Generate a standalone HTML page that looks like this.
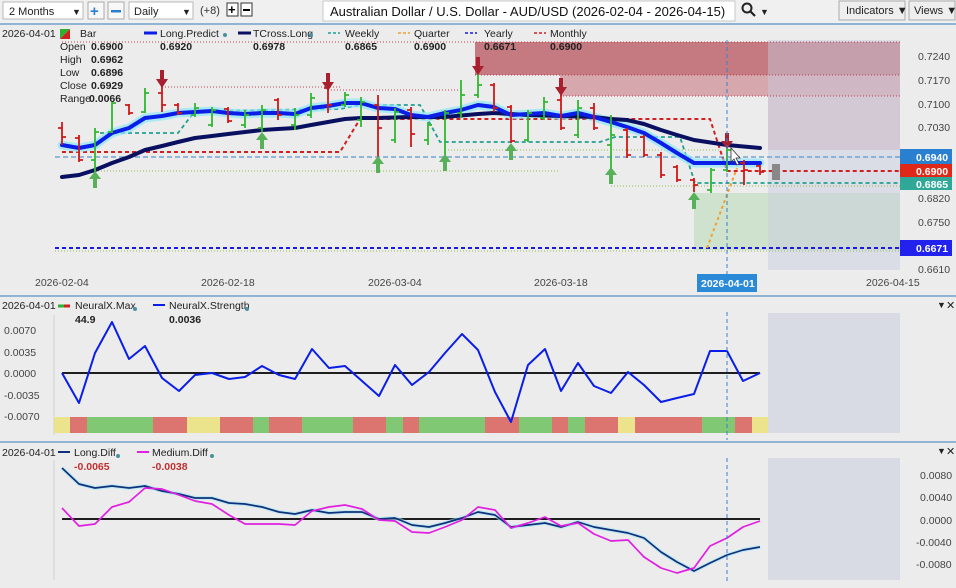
<!DOCTYPE html>
<html><head><meta charset="utf-8"><style>
body{margin:0;width:956px;height:588px;overflow:hidden;background:#ececec;font-family:"Liberation Sans",sans-serif}
svg{display:block}
</style></head><body>
<svg width="956" height="588" viewBox="0 0 956 588" xmlns="http://www.w3.org/2000/svg" font-family="Liberation Sans, sans-serif">
<rect width="956" height="588" fill="#ececec"/>
<!-- toolbar -->
<rect width="956" height="23" fill="#f0f0f0"/>
<rect x="3" y="2" width="80" height="17" fill="#fff" stroke="#b8b8b8"/>
<text x="9" y="15" font-size="11" fill="#222">2 Months</text><text x="72" y="15" font-size="9" fill="#222">▼</text>
<rect x="88" y="2" width="16" height="17" fill="#f8f8f8" stroke="#aaa"/><text x="90" y="16" font-size="15" font-weight="bold" fill="#2a7fd0">+</text>
<rect x="108" y="2" width="16" height="17" fill="#f8f8f8" stroke="#aaa"/><rect x="111" y="10" width="10" height="2.5" fill="#2a7fd0"/>
<rect x="129" y="2" width="64" height="17" fill="#fff" stroke="#b8b8b8"/>
<text x="134" y="15" font-size="11" fill="#222">Daily</text><text x="182" y="15" font-size="9" fill="#222">▼</text>
<text x="200" y="14" font-size="11" fill="#333">(+8)</text>
<rect x="227" y="3" width="11" height="13" fill="#fff" stroke="#333"/><text x="228" y="14" font-size="13" font-weight="bold" fill="#000">+</text>
<rect x="241" y="3" width="11" height="13" fill="#fff" stroke="#333"/><rect x="243" y="9" width="7" height="2" fill="#000"/>
<rect x="323" y="1" width="412" height="20" fill="#fff" stroke="#c8c8c8"/>
<text x="330" y="16" font-size="13" fill="#111">Australian Dollar / U.S. Dollar - AUD/USD (2026-02-04 - 2026-04-15)</text>
<circle cx="747" cy="8" r="4.5" fill="none" stroke="#222" stroke-width="2"/><line x1="750" y1="11" x2="755" y2="16" stroke="#222" stroke-width="2.2"/>
<text x="760" y="15" font-size="9" fill="#222">▼</text>
<rect x="839" y="1" width="66" height="19" fill="#eee" stroke="#aaa"/><text x="846" y="14" font-size="11" fill="#222">Indicators ▼</text>
<rect x="909" y="1" width="46" height="19" fill="#eee" stroke="#aaa"/><text x="914" y="14" font-size="11" fill="#222">Views ▼</text>
<line x1="0" y1="24" x2="956" y2="24" stroke="#8fb4d4" stroke-width="2"/>

<!-- main panel zones -->
<rect x="475" y="42" width="425" height="33" fill="#c47a80"/>
<rect x="560" y="75" width="340" height="21" fill="#d6a8ad"/>
<rect x="768" y="96" width="132" height="54" fill="#dcc6cc"/>
<rect x="694" y="193" width="206" height="57" fill="#cfe2cd"/>
<rect x="768" y="40" width="132" height="230" fill="#c8cce0" opacity="0.45"/>
<line x1="62" y1="42" x2="900" y2="42" stroke="#c04050" stroke-width="1" stroke-dasharray="1,2"/>
<line x1="475" y1="75" x2="900" y2="75" stroke="#c04050" stroke-dasharray="1,2"/>
<line x1="560" y1="96" x2="900" y2="96" stroke="#c04050" stroke-dasharray="1,2"/>
<line x1="162" y1="87" x2="340" y2="87" stroke="#c04050" stroke-dasharray="1,2"/>
<line x1="328" y1="90" x2="460" y2="90" stroke="#c04050" stroke-dasharray="1,2"/>
<!-- level lines -->
<line x1="55" y1="157" x2="900" y2="157" stroke="#5a96d0" stroke-width="1.3" stroke-dasharray="5,3"/>
<line x1="55" y1="248" x2="900" y2="248" stroke="#1a1ae0" stroke-width="2" stroke-dasharray="4,3"/>
<line x1="55" y1="251" x2="900" y2="251" stroke="#90c050" stroke-width="1" stroke-dasharray="1,2"/>
<line x1="95" y1="171" x2="560" y2="171" stroke="#90c050" stroke-dasharray="1,2"/>
<line x1="445" y1="150" x2="720" y2="150" stroke="#90c050" stroke-dasharray="1,2"/>
<line x1="611" y1="186" x2="900" y2="186" stroke="#90c050" stroke-dasharray="1,2"/>
<polyline points="62,152 340,152 360,119 710,119 727,171 900,171" fill="none" stroke="#d02020" stroke-width="2" stroke-dasharray="4,3"/>
<polyline points="100,133 178,133 195,111 340,109 360,105 420,105 440,142 600,142 615,137 680,137 695,183 900,183" fill="none" stroke="#20a090" stroke-width="1.8" stroke-dasharray="4,3"/>
<polyline points="707,248 737,168" fill="none" stroke="#f0a030" stroke-width="2" stroke-dasharray="3,3"/>
<!-- MA lines -->
<g fill="none" stroke-linejoin="round" stroke-linecap="round">
<polyline stroke="#8ee8f8" stroke-width="9" opacity="0.7" points="62,145 79,148 95,145 112,133 129,128 145,118 162,116 178,113 195,112 212,111 228,113 245,114 262,113 278,113 295,114 311,108 328,106 345,103 361,103 378,108 395,109 411,115 428,117 445,113 461,110 478,105 494,107 511,115 528,114 544,113 561,116 578,113 594,117 611,122 627,127 644,133 661,143 677,153 694,163 727,163 760,163"/>
<polyline stroke="#0a1060" stroke-width="4" points="62,177 79,175 95,170 112,163 129,157 145,150 162,146 178,142 195,138 212,136 228,134 245,132 262,130 278,129 295,128 311,125 328,122 345,119 361,118 378,118 411,117 445,117 478,114 494,113 528,115 561,116 594,117 611,119 627,120 644,124 661,130 677,135 694,140 727,145 760,148"/>
<polyline stroke="#0a1ee8" stroke-width="4" points="62,145 79,148 95,145 112,133 129,128 145,118 162,116 178,113 195,112 212,111 228,113 245,114 262,113 278,113 295,114 311,108 328,106 345,103 361,103 378,108 395,109 411,115 428,117 445,113 461,110 478,105 494,107 511,115 528,114 544,113 561,116 578,113 594,117 611,122 627,127 644,133 661,143 677,153 694,163 727,163 760,163"/>
</g>
<!-- bars -->
<path fill="none" stroke="#d01818" stroke-width="1.8" d="M62 122V145M58 128H62M62 137H66 M79 135V162M75 138H79M79 160H83 M129 104V115M125 105H129M129 113H133 M162 83V112M158 93H162M162 105H166 M178 103V115M174 105H178M178 113H182 M228 107V123M224 109H228M228 121H232 M278 98V120M274 100H278M278 115H282 M328 83V113M324 88H328M328 105H332 M378 95V157M374 105H378M378 128H382 M411 107V147M407 110H411M411 134H415 M494 83V112M490 85H494M494 108H498 M511 105V143M507 107H511M511 141H515 M561 88V130M557 100H561M561 128H565 M594 103V130M590 108H594M594 128H598 M627 128V158M623 130H627M627 155H631 M644 135V157M640 137H644M644 155H648 M661 152V178M657 155H661M661 175H665 M677 165V182M673 167H677M677 180H681 M694 178V192M690 180H694M694 185H698 M744 160V185M740 163H744M744 170H748 M760 165V175M756 166H760M760 172H764"/>
<path fill="none" stroke="#30b830" stroke-width="1.8" d="M95 128V172M91 160H95M95 132H99 M112 102V133M108 132H112M112 103H116 M145 88V113M141 112H145M145 93H149 M195 103V117M191 115H195M195 108H199 M212 107V127M208 125H212M212 110H216 M245 110V128M241 125H245M245 115H249 M262 105V132M258 128H262M262 110H266 M295 108V130M291 125H295M295 115H299 M311 93V118M307 115H311M311 98H315 M345 92V107M341 105H345M345 95H349 M361 97V127M357 120H361M361 102H365 M395 108V143M391 140H395M395 112H399 M428 122V145M424 140H428M428 125H432 M445 110V168M441 160H445M445 113H449 M461 80V118M457 113H461M461 95H465 M478 73V98M474 95H478M478 85H482 M528 110V142M524 140H528M528 113H532 M544 97V120M540 118H544M544 102H548 M578 100V138M574 135H578M578 108H582 M611 115V173M607 145H611M611 135H615 M711 168V193M707 190H711M711 170H715 M727 148V172M723 170H727M727 150H731"/>
<rect x="772" y="164" width="8" height="16" fill="#888"/>
<!-- arrows -->
<g fill="#58b058">
<polygon points="89,179 95,171 101,179 97,179 97,188 93,188 93,179"/>
<polygon points="256,140 262,132 268,140 264,140 264,149 260,149 260,140"/>
<polygon points="372,164 378,156 384,164 380,164 380,173 376,173 376,164"/>
<polygon points="439,162 445,154 451,162 447,162 447,171 443,171 443,162"/>
<polygon points="505,151 511,143 517,151 513,151 513,160 509,160 509,151"/>
<polygon points="605,175 611,167 617,175 613,175 613,184 609,184 609,175"/>
<polygon points="688,200 694,192 700,200 696,200 696,209 692,209 692,200"/>
</g>
<g fill="#a82030">
<polygon points="160,70 164,70 164,79 168,79 162,88 156,79 160,79"/>
<polygon points="326,73 330,73 330,82 334,82 328,91 322,82 326,82"/>
<polygon points="476,57 480,57 480,66 484,66 478,75 472,66 476,66"/>
<polygon points="559,78 563,78 563,87 567,87 561,96 555,87 559,87"/>
<polygon points="725,133 729,133 729,141 733,141 727,149 721,141 725,141"/>
</g>
<!-- legend main -->
<text x="2" y="37" font-size="10.5" fill="#222">2026-04-01</text>
<polygon points="60,29 70,29 60,39" fill="#30b030"/><polygon points="70,29 70,39 60,39" fill="#d02020"/>
<text x="80" y="37" font-size="10.5" fill="#222">Bar</text>
<line x1="144" y1="33" x2="157" y2="33" stroke="#0a1ee8" stroke-width="3"/><text x="160" y="37" font-size="10.5" fill="#222">Long.Predict</text><circle cx="225" cy="35" r="2" fill="#4a90a0"/>
<line x1="238" y1="33" x2="251" y2="33" stroke="#0a1060" stroke-width="3"/><text x="253" y="37" font-size="10.5" fill="#222">TCross.Long</text><circle cx="311" cy="35" r="2" fill="#4a90a0"/>
<line x1="328" y1="33" x2="340" y2="33" stroke="#20a090" stroke-width="1.5" stroke-dasharray="3,2"/><text x="345" y="37" font-size="10.5" fill="#222">Weekly</text>
<line x1="398" y1="33" x2="410" y2="33" stroke="#f0a030" stroke-width="1.5" stroke-dasharray="3,2"/><text x="414" y="37" font-size="10.5" fill="#222">Quarter</text>
<line x1="465" y1="33" x2="477" y2="33" stroke="#1a1ae0" stroke-width="1.5" stroke-dasharray="3,2"/><text x="484" y="37" font-size="10.5" fill="#222">Yearly</text>
<line x1="534" y1="33" x2="546" y2="33" stroke="#d02020" stroke-width="1.5" stroke-dasharray="3,2"/><text x="550" y="37" font-size="10.5" fill="#222">Monthly</text>
<g font-size="10.5" fill="#222"><text x="60" y="50">Open</text><text x="60" y="63">High</text><text x="60" y="76">Low</text><text x="60" y="89">Close</text><text x="60" y="102">Range</text></g>
<g font-size="10.5" font-weight="bold" fill="#222"><text x="91" y="50">0.6900</text><text x="91" y="63">0.6962</text><text x="91" y="76">0.6896</text><text x="91" y="89">0.6929</text><text x="89" y="102">0.0066</text>
<text x="160" y="50">0.6920</text><text x="253" y="50">0.6978</text><text x="345" y="50">0.6865</text><text x="414" y="50">0.6900</text><text x="484" y="50">0.6671</text><text x="550" y="50">0.6900</text></g>
<!-- price axis -->
<g font-size="10.5" fill="#444"><text x="918" y="60">0.7240</text><text x="918" y="84">0.7170</text><text x="918" y="108">0.7100</text><text x="918" y="131">0.7030</text><text x="918" y="202">0.6820</text><text x="918" y="226">0.6750</text><text x="918" y="273">0.6610</text></g>
<rect x="900" y="149" width="52" height="16" fill="#2a80d0"/><text x="916" y="161" font-size="10.5" font-weight="bold" fill="#fff">0.6940</text>
<rect x="900" y="164" width="52" height="14" fill="#e02818"/><text x="916" y="175" font-size="10.5" font-weight="bold" fill="#fff">0.6900</text>
<rect x="900" y="177" width="52" height="13" fill="#30a898"/><text x="916" y="188" font-size="10.5" font-weight="bold" fill="#fff">0.6865</text>
<rect x="900" y="240" width="52" height="16" fill="#2222ee"/><text x="916" y="252" font-size="10.5" font-weight="bold" fill="#fff">0.6671</text>
<!-- date axis -->
<g font-size="10.5" fill="#444"><text x="35" y="286">2026-02-04</text><text x="201" y="286">2026-02-18</text><text x="368" y="286">2026-03-04</text><text x="534" y="286">2026-03-18</text><text x="866" y="286">2026-04-15</text></g>
<rect x="697" y="274" width="60" height="18" fill="#2a8ad8"/><text x="701" y="287" font-size="10.5" font-weight="bold" fill="#fff">2026-04-01</text>
<line x1="0" y1="296" x2="956" y2="296" stroke="#8fb4d4" stroke-width="2"/>

<!-- panel 2 -->
<rect x="768" y="313" width="132" height="120" fill="#d8dbe4"/>
<g font-size="10.5" fill="#444"><text x="4" y="334">0.0070</text><text x="4" y="356">0.0035</text><text x="4" y="377">0.0000</text><text x="4" y="399">-0.0035</text><text x="4" y="420">-0.0070</text></g>
<text x="2" y="309" font-size="10.5" fill="#222">2026-04-01</text>
<line x1="58" y1="306" x2="64" y2="306" stroke="#30b030" stroke-width="3"/><line x1="64" y1="306" x2="70" y2="306" stroke="#d02020" stroke-width="3"/>
<text x="75" y="309" font-size="10.5" fill="#222">NeuralX.Max</text><circle cx="135" cy="309" r="2" fill="#4a90a0"/>
<line x1="153" y1="305" x2="165" y2="305" stroke="#0a1ee8" stroke-width="2"/><text x="169" y="309" font-size="10.5" fill="#222">NeuralX.Strength</text><circle cx="247" cy="309" r="2" fill="#4a90a0"/>
<text x="75" y="323" font-size="10.5" font-weight="bold" fill="#222">44.9</text><text x="169" y="323" font-size="10.5" font-weight="bold" fill="#222">0.0036</text>
<line x1="54" y1="315" x2="54" y2="435" stroke="#d0d0d0"/>
<g>
<rect x="54" y="417" width="16" height="16" fill="#ece48c"/><rect x="70" y="417" width="17" height="16" fill="#dc7470"/><rect x="87" y="417" width="66" height="16" fill="#80c874"/><rect x="153" y="417" width="34" height="16" fill="#dc7470"/><rect x="187" y="417" width="33" height="16" fill="#ece48c"/><rect x="220" y="417" width="33" height="16" fill="#dc7470"/><rect x="253" y="417" width="16" height="16" fill="#80c874"/><rect x="269" y="417" width="33" height="16" fill="#dc7470"/><rect x="302" y="417" width="51" height="16" fill="#80c874"/><rect x="353" y="417" width="33" height="16" fill="#dc7470"/><rect x="386" y="417" width="17" height="16" fill="#80c874"/><rect x="403" y="417" width="16" height="16" fill="#dc7470"/><rect x="419" y="417" width="66" height="16" fill="#80c874"/><rect x="485" y="417" width="34" height="16" fill="#dc7470"/><rect x="519" y="417" width="33" height="16" fill="#80c874"/><rect x="552" y="417" width="16" height="16" fill="#dc7470"/><rect x="568" y="417" width="17" height="16" fill="#80c874"/><rect x="585" y="417" width="33" height="16" fill="#dc7470"/><rect x="618" y="417" width="17" height="16" fill="#ece48c"/><rect x="635" y="417" width="67" height="16" fill="#dc7470"/><rect x="702" y="417" width="33" height="16" fill="#80c874"/><rect x="735" y="417" width="17" height="16" fill="#dc7470"/><rect x="752" y="417" width="16" height="16" fill="#ece48c"/>
</g>
<line x1="62" y1="373" x2="760" y2="373" stroke="#000" stroke-width="1.8"/>
<polyline fill="none" stroke="#0a1ee8" stroke-width="2" stroke-linejoin="round" points="62,373 79,403 95,353 112,322 129,359 145,346 162,378 179,391 195,375 212,373 229,379 245,377 262,366 279,375 295,379 312,349 329,368 345,366 362,381 379,396 395,365 412,385 429,372 445,353 462,334 478,350 495,392 511,422 528,365 545,349 561,391 578,363 594,386 611,393 628,372 644,385 661,402 677,398 694,394 710,351 727,351 743,381 760,373"/>
<text x="937" y="308" font-size="9" fill="#222">▼</text><text x="946" y="309" font-size="11" fill="#222">✕</text>
<line x1="0" y1="442" x2="956" y2="442" stroke="#8fb4d4" stroke-width="2"/>

<!-- panel 3 -->
<rect x="768" y="458" width="132" height="122" fill="#d8dbe4"/>
<g font-size="10.5" fill="#444"><text x="920" y="479">0.0080</text><text x="920" y="501">0.0040</text><text x="920" y="524">0.0000</text><text x="916" y="546">-0.0040</text><text x="916" y="568">-0.0080</text></g>
<text x="2" y="456" font-size="10.5" fill="#222">2026-04-01</text>
<line x1="58" y1="452" x2="70" y2="452" stroke="#10307a" stroke-width="2"/><text x="74" y="456" font-size="10.5" fill="#222">Long.Diff</text><circle cx="118" cy="456" r="2" fill="#4a90a0"/>
<line x1="137" y1="452" x2="149" y2="452" stroke="#e020e0" stroke-width="2"/><text x="152" y="456" font-size="10.5" fill="#222">Medium.Diff</text><circle cx="212" cy="456" r="2" fill="#4a90a0"/>
<text x="74" y="470" font-size="10.5" font-weight="bold" fill="#c03030">-0.0065</text><text x="152" y="470" font-size="10.5" font-weight="bold" fill="#c03030">-0.0038</text>
<line x1="54" y1="460" x2="54" y2="580" stroke="#d0d0d0"/>
<line x1="62" y1="519" x2="760" y2="519" stroke="#000" stroke-width="1.8"/>
<g fill="none" stroke-width="1.7" stroke-linejoin="round">
<polyline stroke="#a0e8f8" stroke-width="4" opacity="0.6" points="62,468 79,484 95,488 112,486 129,488 145,486 162,491 179,494 195,498 212,498 229,503 245,504 262,507 279,512 295,514 312,510 329,513 345,512 362,512 379,519 395,518 412,525 429,527 445,523 462,518 478,512 495,515 511,527 528,525 545,523 561,527 578,522 594,527 611,530 628,533 644,538 661,552 677,562 694,571 710,563 727,555 743,550 760,547"/>
<polyline stroke="#10307a" points="62,468 79,484 95,488 112,486 129,488 145,486 162,491 179,494 195,498 212,498 229,503 245,504 262,507 279,512 295,514 312,510 329,513 345,512 362,512 379,519 395,518 412,525 429,527 445,523 462,518 478,512 495,515 511,527 528,525 545,523 561,527 578,522 594,527 611,530 628,533 644,538 661,552 677,562 694,571 710,563 727,555 743,550 760,547"/>
<polyline stroke="#e020e0" points="62,508 79,526 95,524 112,507 129,502 145,488 162,489 179,495 195,501 212,504 229,515 245,524 262,524 279,524 295,525 312,511 329,507 345,505 362,509 379,520 395,521 412,532 429,533 445,527 462,520 478,507 495,510 511,528 528,523 545,517 561,526 578,523 594,534 611,541 628,540 644,557 661,568 677,573 694,568 710,546 727,538 743,527 760,521"/>
</g>
<text x="937" y="454" font-size="9" fill="#222">▼</text><text x="946" y="455" font-size="11" fill="#222">✕</text>

<!-- crosshair -->
<line x1="727" y1="40" x2="727" y2="274" stroke="#3a80c8" stroke-width="1" stroke-dasharray="4,3"/>
<line x1="727" y1="312" x2="727" y2="440" stroke="#3a80c8" stroke-width="1" stroke-dasharray="4,3"/>
<line x1="727" y1="458" x2="727" y2="582" stroke="#3a80c8" stroke-width="1" stroke-dasharray="4,3"/>
<polygon points="731,148 731,162 734,159 737,165 739,164 736,158 740,158" fill="#fff" stroke="#333" stroke-width="0.8"/>
</svg>
</body></html>
